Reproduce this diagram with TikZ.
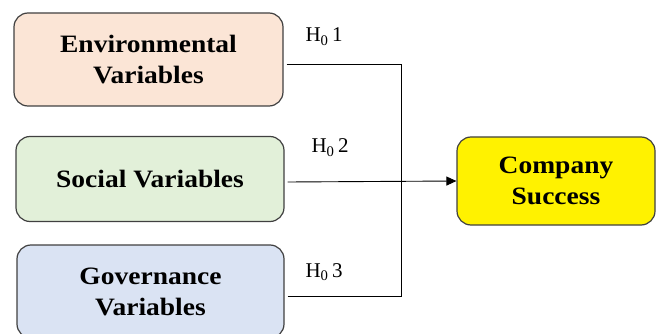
\documentclass[tikz,border=0pt]{standalone}
\usepackage{fontspec}
\setmainfont{Liberation Serif}
\newfontfamily\boxfont{Liberation Serif}[FakeStretch=1.1]
\usepackage{tikz}
\usetikzlibrary{positioning,calc,arrows.meta}
\definecolor{envfill}{HTML}{FBE5D6}
\definecolor{socfill}{HTML}{E2F0D9}
\definecolor{govfill}{HTML}{DAE3F3}
\definecolor{boxline}{HTML}{404040}

\begin{document}
\begin{tikzpicture}[
  x=1pt, y=-1pt,
  varbox/.style={draw=boxline, line width=1.2pt, rounded corners=14pt, align=center,
    font=\boxfont\fontsize{25}{31}\selectfont\bfseries, inner sep=0pt},
  hyplabel/.style={anchor=base west, font=\fontsize{21}{24}\selectfont},
  link/.style={black, line width=0.9pt},
]
\path[use as bounding box, clip] (0,0) rectangle (656,334);
% variable boxes
\node[varbox, fill=envfill, minimum width=269pt, minimum height=93pt] (env) at (148.5,59.5) {Environmental\\Variables};
\node[varbox, fill=socfill, minimum width=268pt, minimum height=85pt] (soc) at (150,179) {Social Variables};
\node[varbox, fill=govfill, minimum width=267pt, minimum height=93pt] (gov) at (150.5,291.5) {Governance\\Variables};
\node[varbox, fill=yellow, minimum width=198pt, minimum height=88pt] (comp) at (556,181) {Company\\Success};

% hypotheses
\node[hyplabel] (h1) at (302,42) {H\textsubscript{0}\,1};
\node[hyplabel] (h2) at (308,153) {H\textsubscript{0}\,2};
\node[hyplabel] (h3) at (302,277) {H\textsubscript{0}\,3};

% connectors
\coordinate (j) at (401,182);
\draw[link] ([xshift=3pt,yshift=-5pt]env.east) -| (j);
\draw[link] ([xshift=3pt,yshift=-4.5pt]gov.east) -| (j);
\draw[link, -{Triangle[length=10pt,width=9pt]}] ([xshift=3pt,yshift=-3pt]soc.east) -- (comp.west);
\end{tikzpicture}
\end{document}
